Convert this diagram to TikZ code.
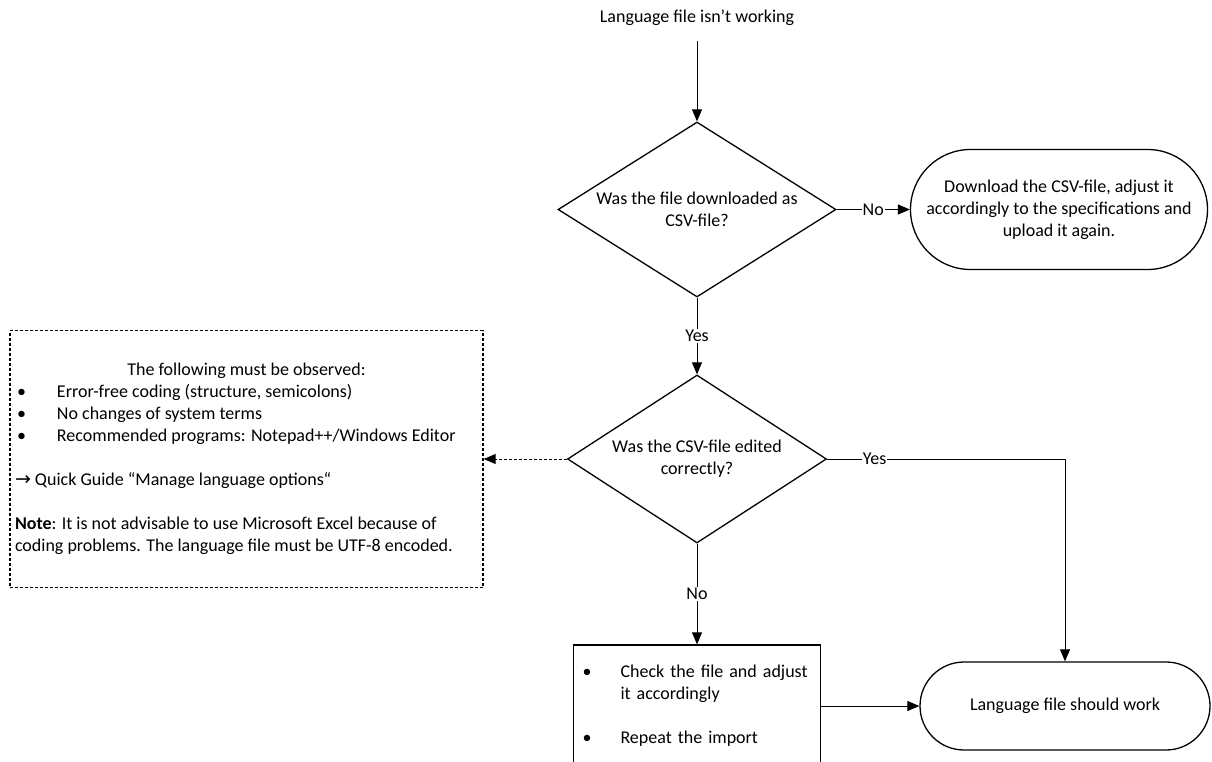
\documentclass[tikz,border=0pt]{standalone}
\usepackage{fontspec}
\setmainfont{Carlito}
\newfontfamily\arrowfont{DejaVu Sans}
\usetikzlibrary{arrows.meta,shapes.geometric,shapes.misc}
\newcommand{\bul}{\makebox[42pt][l]{\hspace{2pt}\textbullet}}
\newcommand{\bulb}{\makebox[42pt][l]{\hspace{4pt}\textbullet}}

\begin{document}
\begin{tikzpicture}[x=1pt,y=-1pt,font=\fontsize{18}{22}\selectfont,
  line width=1pt,>={Triangle[length=12pt,width=10pt]},
  decision/.style={draw,line width=1.3pt,shape=diamond,aspect=1.6,inner sep=0pt,align=center},
  terminal/.style={draw,line width=1.3pt,rounded rectangle,inner sep=0pt,align=center},
  notebox/.style={draw,line width=1.3pt,dash pattern=on 3pt off 2pt,minimum width=473pt,minimum height=257pt,inner xsep=5pt,align=left},
  stepbox/.style={draw,line width=1.3pt,minimum width=247pt,minimum height=122pt,text width=237pt,inner xsep=5pt,align=left},
  lbl/.style={fill=white,inner sep=1pt}]
\useasboundingbox (0,0) rectangle (1212,762);
\clip (0,0) rectangle (1212,762);

\node[minimum height=46pt] (start) at (697,18) {Language file isn’t working};
\node[decision,minimum width=278pt,minimum height=175pt] (q1) at (697,209.5) {Was the file downloaded as\\CSV-file?};
\node[terminal,minimum width=297pt,minimum height=120pt] (redo) at (1059,209.5) {Download the CSV-file, adjust it\\accordingly to the specifications and\\upload it again.};
\node[decision,minimum width=259pt,minimum height=168pt] (q2) at (697,459) {Was the CSV-file edited\\correctly?};
\node[notebox] (note) at (246.5,459) {%
\makebox[463pt]{The following must be observed:}\\
\bul Error-free coding (structure, semicolons)\\
\bul No changes of system terms\\
\bul Recommended programs: Notepad++/Windows Editor\\[22pt]
{\arrowfont\fontsize{19}{22}\selectfont →} Quick Guide “Manage language options“\\[22pt]
\textbf{Note}: It is not advisable to use Microsoft Excel because of\\
coding problems. The language file must be UTF-8 encoded.};
\node[stepbox] (fix) at (697,706) {%
\bulb Check the file and adjust\\
\hspace*{42pt}it accordingly\\[22pt]
\bulb Repeat the import};
\node[terminal,minimum width=290pt,minimum height=88pt] (works) at (1065,706) {Language file should work};

\draw[->] (start) -- (q1);
\draw[->] (q1) -- node[lbl] {No} (redo);
\draw[->] (q1) -- node[lbl] {Yes} (q2);
\draw[->,dash pattern=on 3pt off 2pt] (q2) -- (note);
\draw[->] (q2) -- node[lbl] {No} (fix);
\draw[->] (q2.east) -| node[lbl,pos=0.1] {Yes} (works.north);
\draw[->] (fix) -- (works);
\end{tikzpicture}
\end{document}
